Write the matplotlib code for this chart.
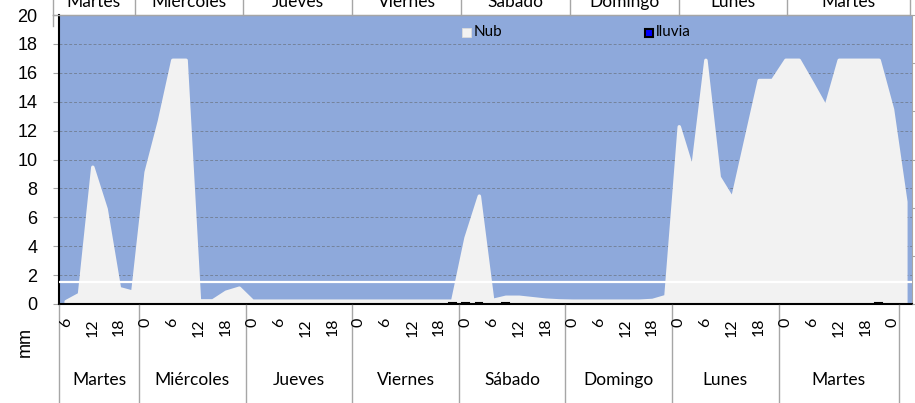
import numpy as np
import matplotlib.pyplot as plt
from matplotlib.patches import Rectangle

W, H = 915, 403

# nubosidad, un valor por tramo de 3 h (centro del tramo, horas desde el martes 00:00)
horas = np.arange(7.5, 197, 3)
nub = [0.2, 0.7, 9.5, 6.6, 1.1, 0.85,                              # martes
       9.15, 12.7, 16.9, 16.9, 0.25, 0.25, 0.85, 1.13,             # miercoles
       0.23, 0.23, 0.23, 0.23, 0.23, 0.23, 0.23, 0.23,             # jueves
       0.23, 0.23, 0.23, 0.23, 0.23, 0.23, 0.23, 0.23,             # viernes
       4.6, 7.5, 0.28, 0.5, 0.5, 0.4, 0.3, 0.25,                   # sabado
       0.23, 0.23, 0.23, 0.23, 0.23, 0.23, 0.28, 0.55,             # domingo
       12.3, 9.3, 16.9, 8.8, 7.3, 11.4, 15.5, 15.5,                # lunes
       16.9, 16.9, 15.3, 13.65, 16.9, 16.9, 16.9, 16.9,            # martes
       13.5, 7.1]

lluvia_horas = [94.5, 97.5, 100.5, 106.5, 190.5]
lluvia = [0.1, 0.1, 0.1, 0.1, 0.1]

umbral = 1.5

dias = ['Martes', 'Miércoles', 'Jueves', 'Viernes', 'Sábado', 'Domingo', 'Lunes', 'Martes']
limites_dias = [6, 24, 48, 72, 96, 120, 144, 168, 195]
etiquetas_hora = ['6', '12', '18'] + ['0', '6', '12', '18'] * 7 + ['0']
pos_hora = np.arange(7.5, 194, 6)

azul = '#8EA9DB'
gris_claro = '#F2F2F2'
lato = ['Lato', 'DejaVu Sans']
arial = ['Liberation Sans', 'DejaVu Sans']

fig = plt.figure(figsize=(W / 100, H / 100), dpi=100)
ax = fig.add_axes([59 / W, 1 - 304 / H, 853 / W, 289 / H])
ax.set_facecolor(azul)
ax.set_xlim(6, 198)
ax.set_ylim(0, 20)

area = ax.fill_between(horas, nub, 0, facecolor=gris_claro, edgecolor=gris_claro,
                       linewidth=2.5, zorder=2)
area.set_joinstyle('round')
ax.bar(lluvia_horas, lluvia, width=1.5, color='#0000FF', edgecolor='black',
       linewidth=1.5, zorder=4)
ax.axhline(umbral, color='white', linewidth=1.6, zorder=3)

ax.set_yticks(range(0, 21, 2))
ax.set_yticklabels([str(v) for v in range(0, 21, 2)], family=arial, fontsize=13)
ax.grid(axis='y', color='#75839c', linestyle=(0, (3, 2)), linewidth=0.7, zorder=1)
ax.set_axisbelow(True)
ax.set_xticks([])
ax.tick_params(axis='y', length=4, color='#a6a6a6', pad=11.5)
ax.spines['left'].set_color('black')
ax.spines['left'].set_linewidth(1.5)
ax.spines['bottom'].set_color('black')
ax.spines['bottom'].set_linewidth(1.5)
ax.spines['bottom'].set_zorder(5)
ax.spines['top'].set_color('#a6a6a6')
ax.spines['right'].set_color('#a6a6a6')

ax2 = ax.twinx()
ax2.set_ylim(0, 6)
ax2.set_yticks(range(0, 7))
ax2.set_yticklabels([])
ax2.tick_params(axis='y', length=5, color='#a6a6a6')
for s in ax2.spines.values():
    s.set_visible(False)

# capa en pixeles para las tablas y la leyenda
pix = fig.add_axes([0, 0, 1, 1])
pix.set_xlim(0, W)
pix.set_ylim(H, 0)
pix.axis('off')
pix.patch.set_alpha(0)

def px_bot(h):
    return 59 + (h - 6) * 853 / 192

def px_top(h):
    return 53 + (h - 6) * 4.533

# tabla inferior
for h in limites_dias:
    pix.plot([px_bot(h)] * 2, [305, H], color='#a6a6a6', linewidth=1)
for h, t in zip(pos_hora, etiquetas_hora):
    pix.text(px_bot(h), 318, t, rotation=90, ha='center', va='top',
             family=lato, fontsize=11.5)
for i, d in enumerate(dias):
    c = (limites_dias[i] + limites_dias[i + 1]) / 2
    pix.text(px_bot(c), 385, d, ha='center', va='baseline', family=lato, fontsize=12.5)

# tabla superior (cortada por el borde)
pix.plot([px_top(6), px_top(195)], [14.5, 14.5], color='#a6a6a6', linewidth=1)
for h in limites_dias:
    pix.plot([px_top(h)] * 2, [0, 14.5], color='#a6a6a6', linewidth=1)
pix.plot([px_top(6)] * 2, [14.5, 26], color='#a6a6a6', linewidth=1)
for i, d in enumerate(dias):
    c = (limites_dias[i] + limites_dias[i + 1]) / 2
    pix.text(px_top(c), 7.3, d, ha='center', va='baseline', family=lato, fontsize=12.5)

# leyenda
pix.add_patch(Rectangle((462, 28), 9, 9, facecolor=gris_claro, edgecolor='#dcdcdc', linewidth=0.6))
pix.text(474, 32.5, 'Nub', ha='left', va='center', family=lato, fontsize=11)
pix.add_patch(Rectangle((644.5, 28.5), 8, 8, facecolor='#0000FF', edgecolor='black', linewidth=1.5))
pix.text(656, 32.5, 'lluvia', ha='left', va='center', family=lato, fontsize=11)

pix.text(25, 342, 'mm', rotation=90, ha='center', va='center', family=arial, fontsize=13)

fig.savefig('out.png', dpi=100)
